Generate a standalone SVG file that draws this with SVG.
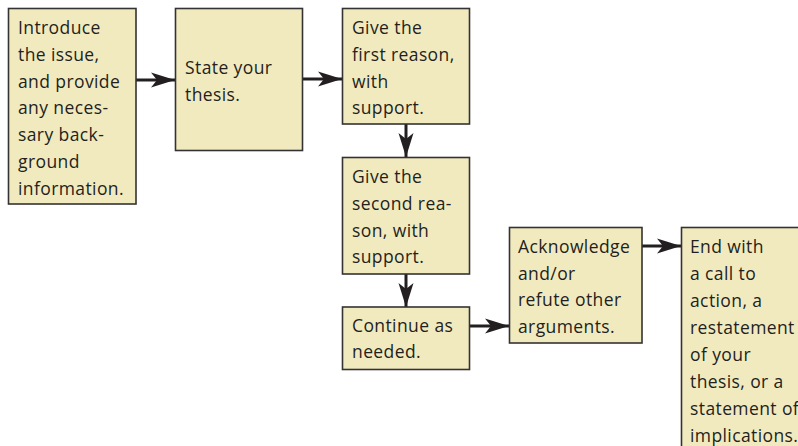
<svg xmlns="http://www.w3.org/2000/svg" width="798" height="446" viewBox="0 0 798 446">
  <style>
    .box { fill: #f2eabf; stroke: #333333; stroke-width: 1.6; }
    .t { font-family: "Open Sans", "Noto Sans", "Liberation Sans", sans-serif; font-size: 17.5px; letter-spacing: 0.4px; fill: #231f20; }
    .conn { stroke: #231f20; stroke-width: 3; fill: none; marker-end: url(#ah); }
  </style>
  <defs>
    <marker id="ah" markerUnits="userSpaceOnUse" markerWidth="26" markerHeight="18" refX="24" refY="9" orient="auto" viewBox="0 0 26 18">
      <path d="M0,1.5 L24,9 L0,16.5 L6,9 Z" fill="#231f20"/>
    </marker>
  </defs>
  <rect width="798" height="446" fill="#ffffff"/>

  <g id="connectors">
    <line class="conn" x1="136" y1="80" x2="175" y2="80"/>
    <line class="conn" x1="302" y1="79" x2="342" y2="79"/>
    <line class="conn" x1="406" y1="124" x2="406" y2="157"/>
    <line class="conn" x1="406" y1="274" x2="406" y2="307"/>
    <line class="conn" x1="469" y1="326" x2="509" y2="326"/>
    <line class="conn" x1="642" y1="246" x2="681" y2="246"/>
  </g>

  <g id="n1">
    <rect class="box" x="8.5" y="8.5" width="127.5" height="195.5"/>
    <text class="t" x="18" y="34">Introduce</text>
    <text class="t" x="18" y="61">the issue,</text>
    <text class="t" x="18" y="88">and provide</text>
    <text class="t" x="18" y="114">any neces-</text>
    <text class="t" x="18" y="141">sary back-</text>
    <text class="t" x="18" y="168">ground</text>
    <text class="t" x="18" y="195">information.</text>
  </g>

  <g id="n2">
    <rect class="box" x="175.5" y="8.5" width="127" height="142"/>
    <text class="t" x="185" y="74">State your</text>
    <text class="t" x="185" y="101">thesis.</text>
  </g>

  <g id="n3">
    <rect class="box" x="342.5" y="8.5" width="127" height="115.5"/>
    <text class="t" x="352" y="34">Give the</text>
    <text class="t" x="352" y="61">first reason,</text>
    <text class="t" x="352" y="88">with</text>
    <text class="t" x="352" y="114">support.</text>
  </g>

  <g id="n4">
    <rect class="box" x="342.5" y="157.5" width="127" height="116.5"/>
    <text class="t" x="352" y="183">Give the</text>
    <text class="t" x="352" y="210">second rea-</text>
    <text class="t" x="352" y="237">son, with</text>
    <text class="t" x="352" y="263">support.</text>
  </g>

  <g id="n5">
    <rect class="box" x="342.5" y="307" width="127" height="62.5"/>
    <text class="t" x="352" y="332">Continue as</text>
    <text class="t" x="352" y="358">needed.</text>
  </g>

  <g id="n6">
    <rect class="box" x="509.5" y="227.5" width="132.5" height="115.5"/>
    <text class="t" x="518" y="253">Acknowledge</text>
    <text class="t" x="518" y="280">and/or</text>
    <text class="t" x="518" y="306">refute other</text>
    <text class="t" x="518" y="333">arguments.</text>
  </g>

  <g id="n7">
    <rect class="box" x="681.5" y="227.5" width="140" height="240"/>
    <text class="t" x="690" y="253">End with</text>
    <text class="t" x="690" y="280">a call to</text>
    <text class="t" x="690" y="307">action, a</text>
    <text class="t" x="690" y="334">restatement</text>
    <text class="t" x="690" y="361">of your</text>
    <text class="t" x="690" y="388">thesis, or a</text>
    <text class="t" x="690" y="415">statement of</text>
    <text class="t" x="690" y="442">implications.</text>
  </g>
</svg>
